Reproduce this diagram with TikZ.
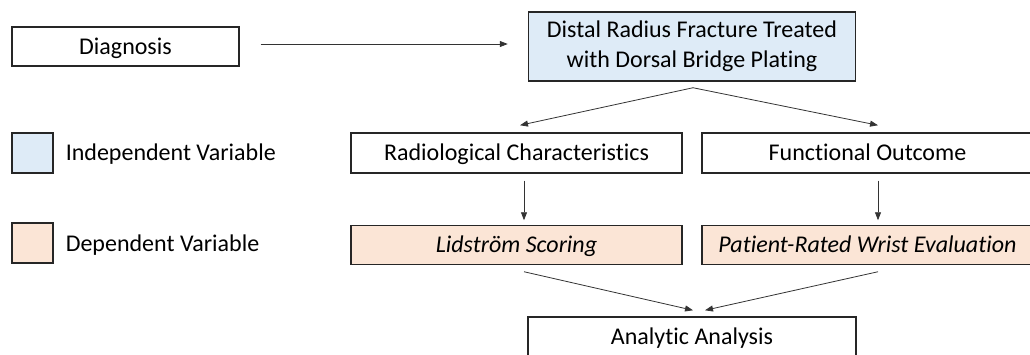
\documentclass[tikz,border=0pt]{standalone}
\usepackage{fontspec}
\setmainfont[Ligatures=NoCommon]{Carlito}
\usetikzlibrary{arrows.meta,calc}
\definecolor{indepblue}{HTML}{DEEBF7}
\definecolor{deporange}{HTML}{FBE5D6}
\tikzset{
  box/.style={draw=black!85,line width=1.1pt,fill=white,inner sep=0pt,align=center,
    font=\fontsize{18}{22.5}\selectfont},
  one/.style={text height=11.6pt,text depth=0pt},
  indep/.style={box,fill=indepblue},
  dep/.style={box,one,fill=deporange,font=\fontsize{18}{22.5}\selectfont\itshape},
  lbl/.style={inner sep=0pt,anchor=west,one,font=\fontsize{18}{22.5}\selectfont},
  arr/.style={draw=black!80,line width=0.6pt,-{Triangle[length=6pt,width=4.5pt]}},
}

\begin{document}
\begin{tikzpicture}[x=0.75pt,y=-0.75pt]
  \clip (0,0) rectangle (1030,354);
  % legend
  \node[box,one,minimum width=170.25pt,minimum height=29.25pt] (diag) at (125.5,46.5) {Diagnosis};
  \node[indep,minimum width=30.75pt,minimum height=30pt] (kind) at (32.5,153) {};
  \node[lbl] (lind) at (65.5,153) {Independent Variable};
  \node[dep,minimum width=30.75pt,minimum height=30pt] (kdep) at (32.5,243) {};
  \node[lbl] (ldep) at (65.5,244) {Dependent Variable};
  % flow
  \node[indep,minimum width=245.25pt,minimum height=51.75pt] (top) at (692,46.5)
    {Distal Radius Fracture Treated\\with Dorsal Bridge Plating};
  \node[box,one,minimum width=248.25pt,minimum height=30pt] (rad) at (516.5,153) {Radiological Characteristics};
  \node[box,one,minimum width=248.25pt,minimum height=30pt] (fun) at (867.5,153) {Functional Outcome};
  \node[dep,minimum width=248.25pt,minimum height=29.25pt] (lid) at (516.5,245) {Lidström Scoring};
  \node[dep,minimum width=248.25pt,minimum height=29.25pt] (pat) at (867.5,245) {Patient-Rated Wrist Evaluation};
  \node[box,one,minimum width=246pt,minimum height=29.25pt] (ana) at (692,336.5) {Analytic Analysis};

  \draw[arr] ($(diag.east)+(21,-2.5)$) -- ($(top.west)+(-20,-2.5)$);
  \draw[arr] ($(top.south)+(1,6)$) -- ($(rad.north)+(3.5,-7)$);
  \draw[arr] ($(top.south)+(1,6)$) -- ($(fun.north)+(10.5,-7)$);
  \draw[arr] ($(rad.south)+(7.5,7)$) -- ($(lid.north)+(7.5,-4.5)$);
  \draw[arr] ($(fun.south)+(10.5,7)$) -- ($(pat.north)+(10.5,-4.5)$);
  \draw[arr] ($(lid.south)+(7.5,6.5)$) -- ($(ana.north)+(1,-6)$);
  \draw[arr] ($(pat.south)+(10.5,6.5)$) -- ($(ana.north)+(13,-6)$);
\end{tikzpicture}
\end{document}
